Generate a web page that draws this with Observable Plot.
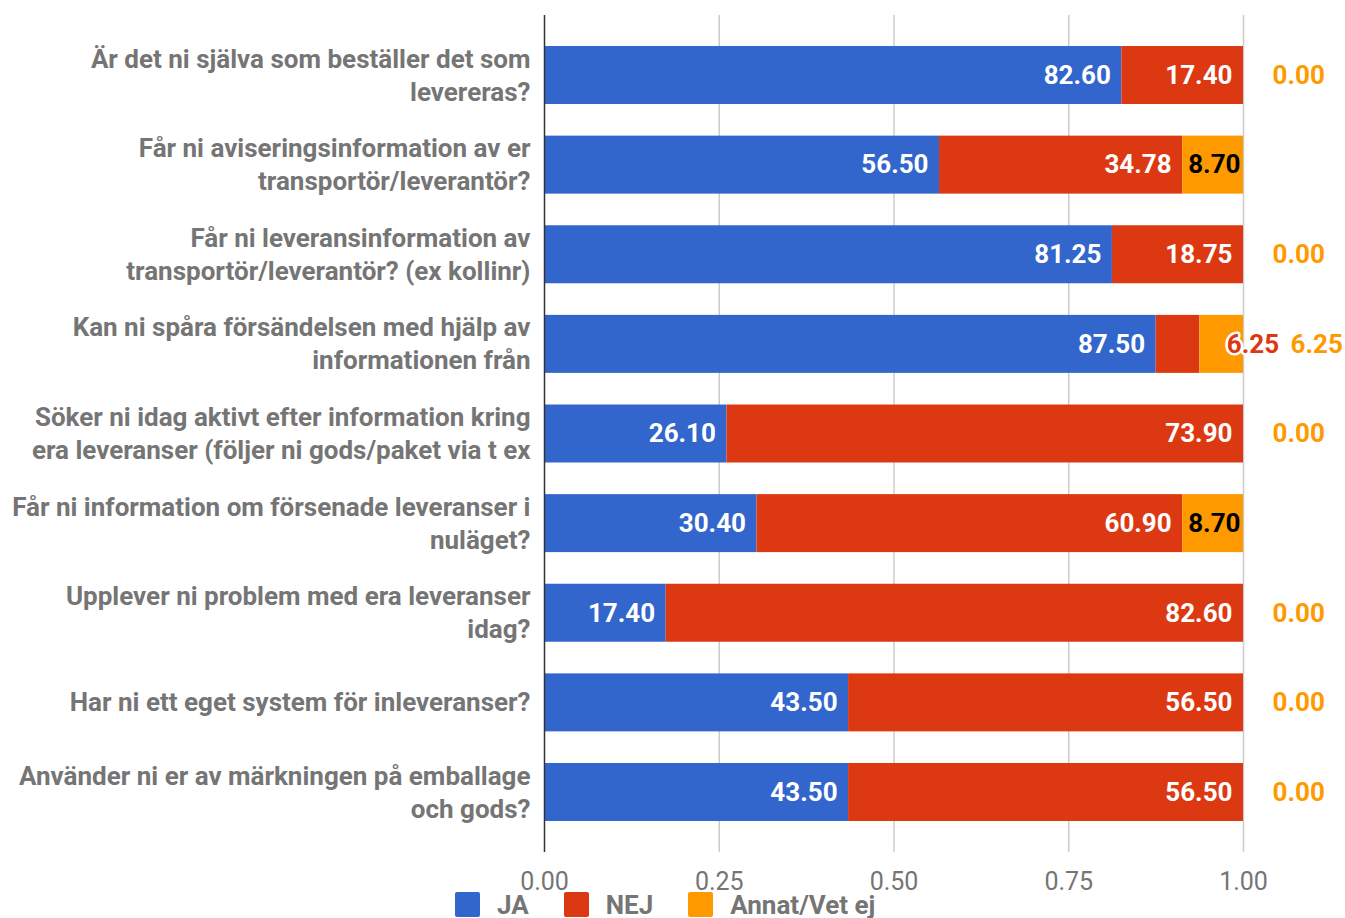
<!DOCTYPE html>
<html>
<head>
<meta charset="utf-8">
<script src="https://cdn.jsdelivr.net/npm/d3@7"></script>
<script src="https://cdn.jsdelivr.net/npm/@observablehq/plot@0.6"></script>
<style>
  html, body { margin: 0; padding: 0; background: white; }
  #wrap { position: relative; width: 1345px; height: 918px; font-family: Roboto, sans-serif; }
  #legend { position: absolute; left: 455px; top: 892px; display: flex; align-items: center; }
  .item { display: flex; align-items: center; margin-right: 35px; }
  .sw { width: 25px; height: 25px; border-radius: 2px; margin-right: 17px; }
  .lab { font-size: 26px; font-weight: bold; color: #757575; line-height: 25px; position: relative; top: 1px; }
</style>
</head>
<body>
<div id="wrap"><div id="chart"></div><div id="legend"></div></div>
<script>
const questions = [
  "Är det ni själva som beställer det som\nlevereras?",
  "Får ni aviseringsinformation av er\ntransportör/leverantör?",
  "Får ni leveransinformation av\ntransportör/leverantör? (ex kollinr)",
  "Kan ni spåra försändelsen med hjälp av\ninformationen från",
  "Söker ni idag aktivt efter information kring\nera leveranser (följer ni gods/paket via t ex",
  "Får ni information om försenade leveranser i\nnuläget?",
  "Upplever ni problem med era leveranser\nidag?",
  "Har ni ett eget system för inleveranser?",
  "Använder ni er av märkningen på emballage\noch gods?"
];
const seriesNames = ["JA", "NEJ", "Annat/Vet ej"];
const seriesColors = ["#3366CC", "#DC3912", "#FF9900"];
const ja    = [82.60, 56.50, 81.25, 87.50, 26.10, 30.40, 17.40, 43.50, 43.50];
const nej   = [17.40, 34.78, 18.75,  6.25, 73.90, 60.90, 82.60, 56.50, 56.50];
const annat = [ 0.00,  8.70,  0.00,  6.25,  0.00,  8.70,  0.00,  0.00,  0.00];
const xTicks = [0, 0.25, 0.5, 0.75, 1];

const seriesValues = [ja, nej, annat];
const rows = [];
questions.forEach((q, i) => {
  const total = ja[i] + nej[i] + annat[i];
  seriesValues.forEach((vals, s) => {
    rows.push({q, series: seriesNames[s], s, value: vals[i], frac: vals[i] / total, i});
  });
});
const fits = d => d.frac >= 0.08;
const prevOutside = d => d.s === 2 && rows.some(r => r.i === d.i && r.s === 1 && r.value > 0 && !fits(r));
const fmt = d3.format(".2f");
const stackOpts = {x: "value", y: "q", z: "series", offset: "normalize", order: null};
const LBL = {fontSize: 26, fontWeight: "bold"};

const chart = Plot.plot({
  width: 1345,
  height: 918,
  marginLeft: 544,
  marginRight: 102,
  marginTop: 15,
  marginBottom: 66,
  style: {fontFamily: "Roboto, sans-serif", background: "white"},
  x: {domain: [0, 1]},
  y: {domain: questions, paddingInner: 0.353, paddingOuter: 0.346, round: false},
  color: {domain: seriesNames, range: seriesColors},
  marks: [
    Plot.ruleX(xTicks.slice(1), {stroke: "#cccccc", strokeWidth: 1.5, strokeOpacity: 1}),
    Plot.barX(rows, Plot.stackX({...stackOpts, fill: "series"})),
    Plot.ruleX([0], {stroke: "#333333", strokeWidth: 1.5}),
    Plot.text(rows, Plot.stackX2({...stackOpts, ...LBL,
      text: d => (d.s < 2 && fits(d)) ? fmt(d.value) : "",
      textAnchor: "end", dx: -11, fill: "white"})),
    Plot.text(rows, Plot.stackX2({...stackOpts, ...LBL,
      text: d => (d.s === 2 && d.value > 0 && fits(d)) ? fmt(d.value) : "",
      textAnchor: "end", dx: -3, fill: "black"})),
    Plot.text(rows, Plot.stackX2({...stackOpts, ...LBL,
      text: d => (d.s === 1 && !fits(d)) ? fmt(d.value) : "",
      textAnchor: "start", dx: 27, fill: "#DC3912", stroke: "white", strokeWidth: 5})),
    Plot.text(rows, Plot.stackX2({...stackOpts, ...LBL,
      text: d => (d.s === 2 && !fits(d) && !prevOutside(d)) ? fmt(d.value) : "",
      textAnchor: "start", dx: 29, fill: "#FF9900"})),
    Plot.text(rows, Plot.stackX2({...stackOpts, ...LBL,
      text: d => (d.s === 2 && !fits(d) && prevOutside(d)) ? fmt(d.value) : "",
      textAnchor: "start", dx: 47, fill: "#FF9900"})),
    Plot.axisX({ticks: xTicks, tickFormat: fmt, tickSize: 0, tickPadding: 20, fontSize: 25, fill: "#757575", label: null}),
    Plot.axisY({tickSize: 0, tickPadding: 14, dy: -2, fontSize: 26, fontWeight: "bold", fill: "#757575", lineHeight: 1.27, label: null})
  ]
});
document.getElementById("chart").appendChild(chart);

const legend = document.getElementById("legend");
seriesNames.forEach((n, k) => {
  const it = document.createElement("div");
  it.className = "item";
  it.innerHTML = `<div class="sw" style="background:${seriesColors[k]}"></div><div class="lab">${n}</div>`;
  legend.appendChild(it);
});
</script>
</body>
</html>
